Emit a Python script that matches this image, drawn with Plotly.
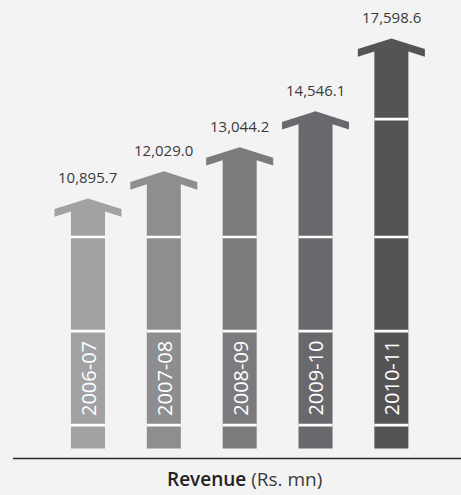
import plotly.graph_objects as go

# Revenue by financial year (Rs. mn)
years = ["2006-07", "2007-08", "2008-09", "2009-10", "2010-11"]
revenue = [10895.7, 12029.0, 13044.2, 14546.1, 17598.6]
value_labels = ["10,895.7", "12,029.0", "13,044.2", "14,546.1", "17,598.6"]
arrow_colors = ["#a2a2a4", "#8e8e91", "#7b7b7e", "#69686c", "#545456"]

# white band levels drawn across the arrow shafts
band_levels = [1400, 5340, 9280, 14220]

W, H = 461, 495
Y_MIN, Y_MAX = -1529, 19208
X_MIN, X_MAX = -1.160, 4.918
U_PER_PX_Y = (Y_MAX - Y_MIN) / H
U_PER_PX_X = (X_MAX - X_MIN) / W

def py(px):
    return px * U_PER_PX_Y

def px_x(px):
    return px * U_PER_PX_X

half_shaft = px_x(17)
half_wing = px_x(33.5)
base = py(10)

fig = go.Figure()

for i, (v, col) in enumerate(zip(revenue, arrow_colors)):
    c = i
    neck = v - py(13)
    xs = [c - half_shaft, c - half_shaft, c - half_wing, c - half_wing, c,
          c + half_wing, c + half_wing, c + half_shaft, c + half_shaft, c - half_shaft]
    ys = [base, neck, v - py(18.3), v - py(10.7), v,
          v - py(10.7), v - py(18.3), neck, base, base]
    fig.add_trace(go.Scatter(x=xs, y=ys, mode="lines", fill="toself",
                             fillcolor=col, line=dict(width=0, color=col),
                             hoverinfo="skip", showlegend=False))
    for lv in band_levels:
        if lv < neck:
            fig.add_trace(go.Scatter(x=[c - half_shaft, c + half_shaft], y=[lv, lv],
                                     mode="lines", line=dict(color="white", width=2.7),
                                     hoverinfo="skip", showlegend=False))

annotations = []
for i, (v, lab, yr) in enumerate(zip(revenue, value_labels, years)):
    annotations.append(dict(x=i, y=v, text=lab, showarrow=False, yanchor="middle",
                            yshift=21, font=dict(family="Open Sans", size=15, color="#3a3a3a")))
    annotations.append(dict(x=i, y=(band_levels[0] + band_levels[1]) / 2, text=yr,
                            showarrow=False, textangle=-90,
                            font=dict(family="Open Sans", size=20, color="white")))

annotations.append(dict(xref="paper", yref="paper", x=244 / W, y=(H - 479) / H,
                        text="<span style='font-weight:600;'>Revenue</span>"
                             "<span style='color:#3a3a3a;'> (Rs. mn)</span>",
                        showarrow=False, xanchor="center", yanchor="middle",
                        font=dict(family="Open Sans", size=19, color="#222222")))

fig.update_layout(
    width=W, height=H,
    margin=dict(l=0, r=0, t=0, b=0),
    paper_bgcolor="#f3f3f3", plot_bgcolor="#f3f3f3",
    xaxis=dict(range=[X_MIN, X_MAX], visible=False, fixedrange=True),
    yaxis=dict(range=[Y_MIN, Y_MAX], visible=False, fixedrange=True),
    annotations=annotations,
    shapes=[dict(type="line", xref="paper", yref="y", x0=13 / W, x1=1, y0=0, y1=0,
                 line=dict(color="#2b2b2b", width=1.5))],
)

fig.write_html("out.html")
